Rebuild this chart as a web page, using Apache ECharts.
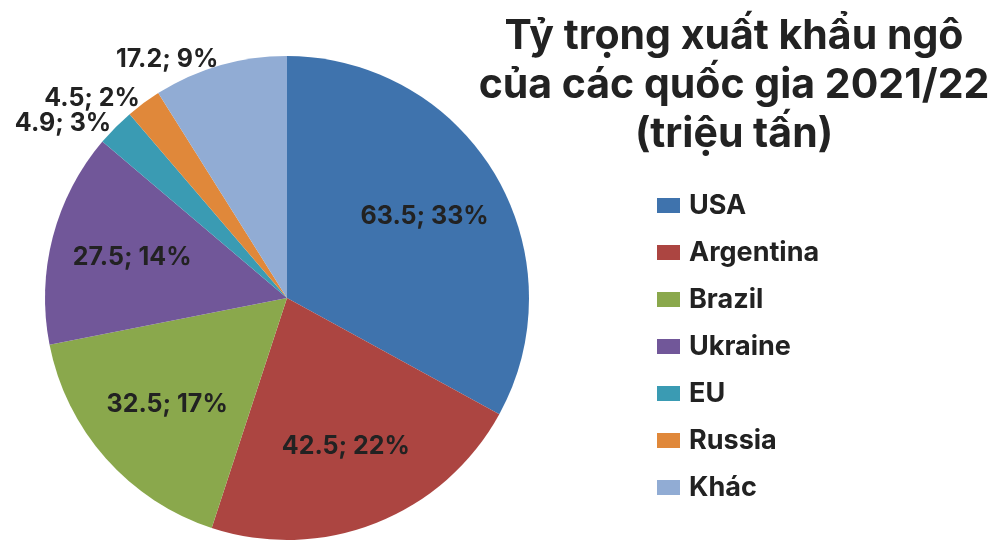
<!DOCTYPE html>
<html><head><meta charset="utf-8">
<script src="https://cdn.jsdelivr.net/npm/echarts@6/dist/echarts.min.js"></script>
<style>html,body{margin:0;padding:0;background:#fff}#c{width:1000px;height:553px}</style>
</head><body><div id="c"></div>
<script>
const titleText = 'Tỷ trọng xuất khẩu ngô\ncủa các quốc gia 2021/22\n(triệu tấn)';
const categories = ['USA', 'Argentina', 'Brazil', 'Ukraine', 'EU', 'Russia', 'Khác'];
const values = [63.5, 42.5, 32.5, 27.5, 4.9, 4.5, 17.2];
const colors = ['#3f73ad', '#ac4541', '#8aa84c', '#715799', '#3a9bb3', '#e0883a', '#91acd4'];
const outsideLabeled = ['EU', 'Russia', 'Khác'];

const FONT = 'Inter, Roboto, sans-serif';
const labelText = {color: '#222', fontFamily: FONT, fontWeight: 'bold', fontSize: 25, lineHeight: 20};

const chart = echarts.init(document.getElementById('c'), null, {renderer: 'canvas'});
chart.setOption({
  backgroundColor: '#fff',
  animation: false,
  color: colors,
  title: {
    text: titleText,
    left: 729, top: 7, textAlign: 'center',
    textStyle: {fontFamily: FONT, fontWeight: 'bold', fontSize: 41, lineHeight: 49, color: '#222'}
  },
  legend: {
    orient: 'vertical', left: 652, top: 187,
    itemWidth: 23, itemHeight: 15, itemGap: 20, icon: 'rect',
    data: categories,
    textStyle: {fontFamily: FONT, fontWeight: 'bold', fontSize: 27, lineHeight: 27, color: '#222', padding: [0, 0, 0, 4]}
  },
  series: [
    {
      type: 'pie', center: [287, 298], radius: [0, 242],
      startAngle: 90, clockwise: true, silent: true,
      avoidLabelOverlap: false,
      labelLayout: {hideOverlap: false},
      data: categories.map((n, i) => ({
        name: n, value: values[i],
        label: {show: outsideLabeled.includes(n)}
      })),
      label: Object.assign({position: 'outside', formatter: '{c}; {d}%', distanceToLabelLine: 0}, labelText),
      labelLine: {show: false, length: 6, length2: 0},
      percentPrecision: 0
    },
    {
      type: 'pie', center: [287, 298], radius: [0, 314],
      startAngle: 90, clockwise: true, silent: true,
      avoidLabelOverlap: false,
      labelLayout: {hideOverlap: false},
      itemStyle: {color: 'rgba(0,0,0,0)'},
      data: categories.map((n, i) => ({
        name: n, value: values[i],
        label: {show: !outsideLabeled.includes(n)}
      })),
      label: Object.assign({position: 'inside', formatter: '{c}; {d}%'}, labelText),
      labelLine: {show: false},
      percentPrecision: 0
    }
  ]
});
</script>
</body></html>
